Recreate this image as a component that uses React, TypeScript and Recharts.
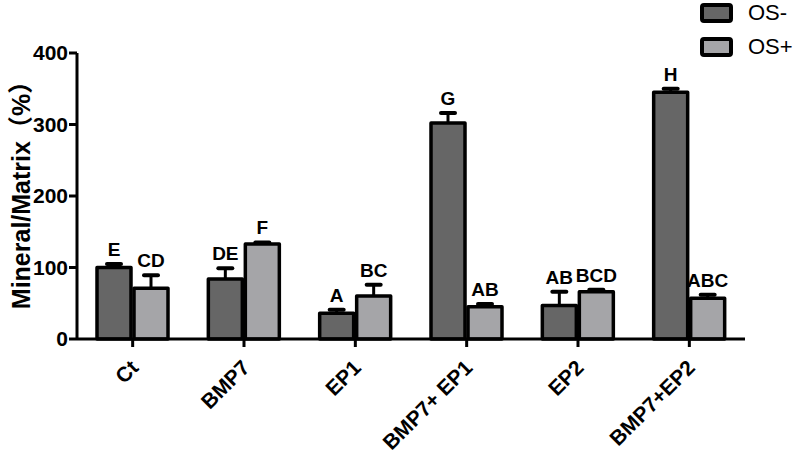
import React from 'react';
import { BarChart, Bar, XAxis, YAxis, Legend } from 'recharts';

const groups = ['Ct', 'BMP7', 'EP1', 'BMP7+ EP1', 'EP2', 'BMP7+EP2'];
const osMinus = [100, 84, 36, 302, 47, 345];
const osMinusErr = [5, 15, 5, 14, 19, 5];
const osMinusLetters = ['E', 'DE', 'A', 'G', 'AB', 'H'];
const osPlus = [71, 133, 60, 45, 66, 57];
const osPlusErr = [18, 2, 16, 4, 3, 5];
const osPlusLetters = ['CD', 'F', 'BC', 'AB', 'BCD', 'ABC'];
const seriesNames = ['OS-', 'OS+'];
const yTicks = [0, 100, 200, 300, 400];

const DARK = '#666666';
const LIGHT = '#a5a5a8';
const FONT = '"Liberation Sans", Arial, Helvetica, sans-serif';

const data = groups.map((g, i) => ({
  group: g,
  minus: osMinus[i],
  minusErr: osMinusErr[i],
  minusLetter: osMinusLetters[i],
  plus: osPlus[i],
  plusErr: osPlusErr[i],
  plusLetter: osPlusLetters[i],
}));

// bar with a one-sided (upward) SEM whisker and the significance letter on top
function makeBarShape(valueKey: string, errKey: string, letterKey: string) {
  return (props: any) => {
    const { x, y, width, height, payload, fill } = props;
    const value = payload[valueKey];
    const perUnit = value ? height / value : 0;
    const top = y - payload[errKey] * perUnit;
    const cx = x + width / 2;
    return (
      <g>
        <line x1={cx} x2={cx} y1={y} y2={top} stroke="#000" strokeWidth={3} />
        <line x1={cx - 7} x2={cx + 7} y1={top} y2={top} stroke="#000" strokeWidth={4} strokeLinecap="round" />
        <rect x={x} y={y} width={width} height={height} fill={fill} stroke="#000" strokeWidth={3.5} strokeLinejoin="round" />
        <text x={cx} y={top - 8} textAnchor="middle" fontSize={19} fontWeight={700} fontFamily={FONT} fill="#000">
          {payload[letterKey]}
        </text>
      </g>
    );
  };
}

function XTick(props: any) {
  const { x, y, payload } = props;
  return (
    <g transform={`translate(${x},${y})`}>
      <text x={0} y={0} transform="translate(7,20) rotate(-45)" textAnchor="end" fontSize={21} fontWeight={700} fontFamily={FONT} fill="#000">
        {payload.value}
      </text>
    </g>
  );
}

function LegendBox({ payload }: any) {
  const items = [...(payload || [])].sort(
    (a: any, b: any) => seriesNames.indexOf(a.value) - seriesNames.indexOf(b.value)
  );
  return (
    <div style={{ fontFamily: FONT, fontSize: 22, color: '#000' }}>
      {items.map((item: any) => (
        <div key={item.value} style={{ display: 'flex', alignItems: 'center', height: 34 }}>
          <span
            style={{
              display: 'inline-block',
              width: 33,
              height: 20,
              boxSizing: 'border-box',
              border: '4px solid #000',
              borderRadius: 4,
              background: item.color,
              marginRight: 15,
            }}
          />
          <span>{item.value}</span>
        </div>
      ))}
    </div>
  );
}

export default function App() {
  return (
    <div style={{ position: 'absolute', left: 0, top: 0, width: 800, height: 457, background: '#fff' }}>
      <BarChart
        width={800}
        height={457}
        data={data}
        margin={{ top: 53, right: 55, bottom: 18, left: 27 }}
        barSize={34}
        barGap={3}
      >
        <XAxis
          dataKey="group"
          height={100}
          interval={0}
          tick={<XTick />}
          tickSize={8}
          tickMargin={2}
          axisLine={{ stroke: '#000', strokeWidth: 3 }}
          tickLine={{ stroke: '#000', strokeWidth: 3 }}
        />
        <YAxis
          width={50}
          domain={[0, 400]}
          ticks={yTicks}
          tickSize={8}
          tickMargin={1}
          axisLine={{ stroke: '#000', strokeWidth: 3 }}
          tickLine={{ stroke: '#000', strokeWidth: 3 }}
          tick={{ fill: '#000', fontSize: 21, fontWeight: 700, fontFamily: FONT }}
          label={({ viewBox }: any) => {
            const cx = viewBox.x - 6;
            const cy = viewBox.y + viewBox.height / 2 - 7;
            return (
              <text
                x={cx}
                y={cy}
                transform={`rotate(-90, ${cx}, ${cy})`}
                textAnchor="middle"
                dominantBaseline="central"
                fontSize={25}
                fontWeight={700}
                fontFamily={`${FONT}, "Noto Sans CJK SC"`}
                fill="#000"
              >
                Mineral/Matrix（%）
              </text>
            );
          }}
        />
        <Legend
          layout="horizontal"
          align="center"
          verticalAlign="middle"
          content={<LegendBox />}
          wrapperStyle={{ position: 'absolute', top: -4, left: 700, width: 100 }}
        />
        <Bar
          dataKey="minus"
          name={seriesNames[0]}
          fill={DARK}
          shape={makeBarShape('minus', 'minusErr', 'minusLetter')}
          isAnimationActive={false}
        />
        <Bar
          dataKey="plus"
          name={seriesNames[1]}
          fill={LIGHT}
          shape={makeBarShape('plus', 'plusErr', 'plusLetter')}
          isAnimationActive={false}
        />
      </BarChart>
    </div>
  );
}
